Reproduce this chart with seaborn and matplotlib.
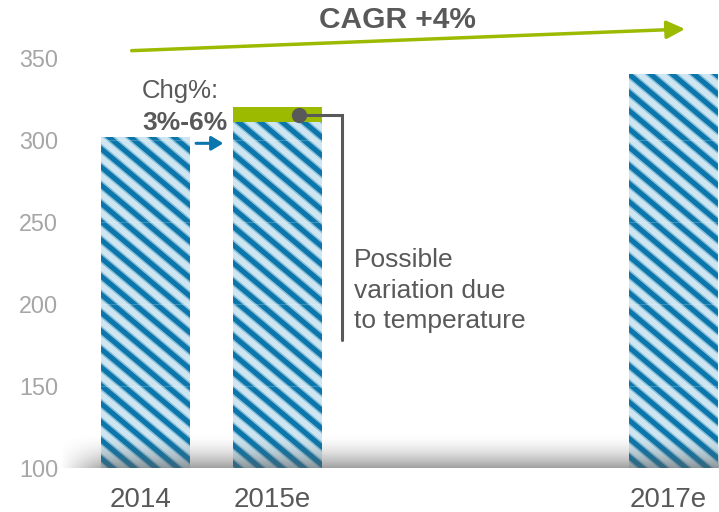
import numpy as np
import pandas as pd
import matplotlib
matplotlib.use("Agg")
import matplotlib.pyplot as plt
import seaborn as sns
from matplotlib.collections import LineCollection
from matplotlib.transforms import IdentityTransform, ScaledTranslation, Bbox

# ---- data -------------------------------------------------------------
years = ["2014", "2015e", "2017e"]
volume = [302, 311, 340]
slot_order = ["2014", "2015e", "", " ", "2017e"]   # 2016 slots left empty
range_year = ["2015e"]
range_low = [311]
range_high = [320]
y_ticks = [100, 150, 200, 250, 300, 350]
cagr_label = "CAGR +4%"
chg_label = "Chg%:"
chg_range = "3%-6%"
note = "Possible\nvariation due\nto temperature"

# ---- style ------------------------------------------------------------
BLUE_LIGHT = "#cde6f1"
BLUE_DARK = "#0a76ab"
GREEN = "#9bba00"
GRAY_TEXT = "#595959"
GRAY_TICK = "#a6a6a6"

sns.set_theme(style="white")
plt.rcParams["font.family"] = ["Liberation Sans", "DejaVu Sans"]

W, H, DPI = 719, 512, 100
fig = plt.figure(figsize=(W / DPI, H / DPI), dpi=DPI)
ax = fig.add_axes([60 / W, 44 / H, 659 / W, 468 / H])

BAR_W = 0.674
df = pd.DataFrame({"year": years, "volume": volume})
rng = pd.DataFrame({"year": range_year, "high": range_high})

# upper end of the range first, the hatched bars are laid on top of it
sns.barplot(data=rng, x="year", y="high", order=slot_order, color=GREEN,
            width=BAR_W, saturation=1, errorbar=None, linewidth=0, ax=ax)
n_green = len(ax.patches)
sns.barplot(data=df, x="year", y="volume", order=slot_order, color=BLUE_LIGHT,
            width=BAR_W, saturation=1, errorbar=None, linewidth=0, ax=ax)
bars = ax.patches[n_green:]

ax.set_xlim(-0.648, 4.344)
ax.set_ylim(100, 385.4)
ax.set_yticks(y_ticks)
ax.set_xlabel("")
ax.set_ylabel("")
sns.despine(ax=ax, left=True, bottom=True)
ax.tick_params(axis="y", length=0, pad=1.2, labelsize=16.8, labelcolor=GRAY_TICK)
ax.tick_params(axis="x", length=0, pad=14, labelsize=20, labelcolor=GRAY_TEXT)
for lab in ax.get_xticklabels():
    lab.set_transform(lab.get_transform() + ScaledTranslation(-5 / DPI, 0, fig.dpi_scale_trans))

# faint white grid crossing the bars
ax.grid(axis="y", color="white", alpha=0.2, lw=0.8)
ax.set_axisbelow(False)

# ---- diagonal stripes on the bars (pixel space) -----------------------
fig.canvas.draw()
theta = np.deg2rad(40)
period = 21.7
d = np.array([np.cos(theta), -np.sin(theta)])
for bar in bars:
    bb = bar.get_window_extent()
    clip = Bbox.intersection(bb, ax.bbox)
    if clip is None:
        continue
    L = (clip.height / np.sin(theta)) + 60
    top = clip.y1
    span = clip.height / np.tan(theta)
    us = np.arange(np.floor((clip.x0 - span - period) / period) * period,
                   clip.x1 + period, period)
    segs = [[(u - 30 * d[0], top - 30 * d[1]), (u + L * d[0], top + L * d[1])] for u in us]
    for lw, a in ((8.0, 0.35), (5.0, 1.0)):
        lc = LineCollection(segs, colors=BLUE_DARK, linewidths=lw * 72 / DPI,
                            alpha=a, transform=IdentityTransform(), zorder=1.5)
        ax.add_collection(lc, autolim=False)
        lc.set_clip_path(None)
        lc.set_clip_box(clip)

# ---- floor shadow -----------------------------------------------------
ny, nx = 80, 600
v = np.linspace(0, 1, ny)[::-1][:, None]    # 1 at the floor, 0 at the top
hx = np.clip(np.linspace(0, 1, nx) / 0.07, 0, 1)[None, :]
alpha = 0.58 * (v ** 1.8) * hx
rgba = np.zeros((ny, nx, 4))
rgba[..., :3] = 0.36
rgba[..., 3] = alpha
ax.imshow(rgba, extent=(-0.648, 4.344, 100, 121), origin="lower",
          aspect="auto", zorder=3, interpolation="bilinear")
ax.set_xlim(-0.648, 4.344)
ax.set_ylim(100, 385.4)

# ---- annotations ------------------------------------------------------
ax.annotate("", xy=(4.087, 367.7), xytext=(-0.105, 354.5),
            arrowprops=dict(arrowstyle="-|>,head_length=0.55,head_width=0.27",
                            mutation_scale=20, color=GREEN, lw=2.5,
                            shrinkA=0, shrinkB=0), zorder=4)
ax.text(1.908, 368.1, cagr_label, ha="center", va="baseline", fontsize=21.5,
        fontweight="bold", color=GRAY_TEXT)

ax.text(-0.026, 325.6, chg_label, ha="left", va="baseline", fontsize=18.5,
        color=GRAY_TEXT)
ax.text(-0.026, 306.1, chg_range, ha="left", va="baseline", fontsize=19,
        fontweight="bold", color=GRAY_TEXT)
ax.annotate("", xy=(0.589, 298), xytext=(0.383, 298),
            arrowprops=dict(arrowstyle="-|>,head_length=0.5,head_width=0.3",
                            mutation_scale=14, color=BLUE_DARK, lw=2.2,
                            shrinkA=0, shrinkB=0), zorder=4)

mid = (range_low[0] + range_high[0]) / 2
ax.plot([1.163, 1.491, 1.491], [mid, mid, 178], color=GRAY_TEXT, lw=2.2,
        solid_joinstyle="miter", zorder=4)
ax.plot(1.163, mid, "o", ms=10, color=GRAY_TEXT, zorder=5)
ax.text(1.578, 234.1, note, ha="left", va="top", fontsize=19, color=GRAY_TEXT,
        linespacing=1.35)

fig.savefig("out.png", dpi=DPI)
